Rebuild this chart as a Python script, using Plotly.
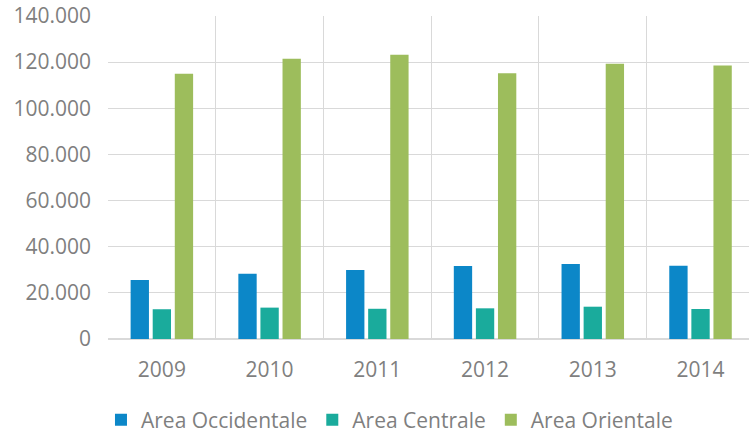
import plotly.graph_objects as go

years = ["2009", "2010", "2011", "2012", "2013", "2014"]
occidentale = [25600, 28300, 29900, 31600, 32500, 31700]
centrale = [12900, 13600, 13100, 13300, 14000, 13000]
orientale = [115000, 121500, 123200, 115200, 119300, 118500]
names = ["Area Occidentale", "Area Centrale", "Area Orientale"]
colors = ["#0c87c8", "#1aab9c", "#9dbd5c"]

fig = go.Figure()
for name, vals, col in zip(names, [occidentale, centrale, orientale], colors):
    fig.add_trace(go.Bar(x=years, y=vals, name=name, marker=dict(color=col, line=dict(width=0))))

font_color = "#7f7f7f"
fs = 21
fig.update_layout(
    width=749, height=435,
    margin=dict(l=108, r=0, t=16, b=96, autoexpand=False),
    paper_bgcolor="white", plot_bgcolor="white",
    barmode="group", bargap=0.385, bargroupgap=0.17,
    separators=",.",
    font=dict(family="Open Sans", size=fs, color=font_color),
    showlegend=True,
    legend=dict(orientation="h", x=0.52, xanchor="center", xref="container",
                y=0.034, yanchor="middle", yref="container",
                font=dict(size=fs, color=font_color), traceorder="normal"),
    xaxis=dict(type="category", tickson="boundaries", showgrid=True, gridcolor="#d9d9d9",
               gridwidth=1, ticks="", range=[-0.5, 5.45], showline=False, zeroline=False,
               ticklabelstandoff=16, tickfont=dict(size=fs, color=font_color)),
    yaxis=dict(range=[0, 140000], tickvals=[0, 20000, 40000, 60000, 80000, 100000, 120000, 140000],
               tickformat=",d", showgrid=True, gridcolor="#d9d9d9", gridwidth=1,
               zeroline=True, zerolinecolor="#d9d9d9", showline=False, ticks="",
               ticklabelstandoff=16, tickfont=dict(size=fs, color=font_color)),
)
fig.write_html("out.html")
